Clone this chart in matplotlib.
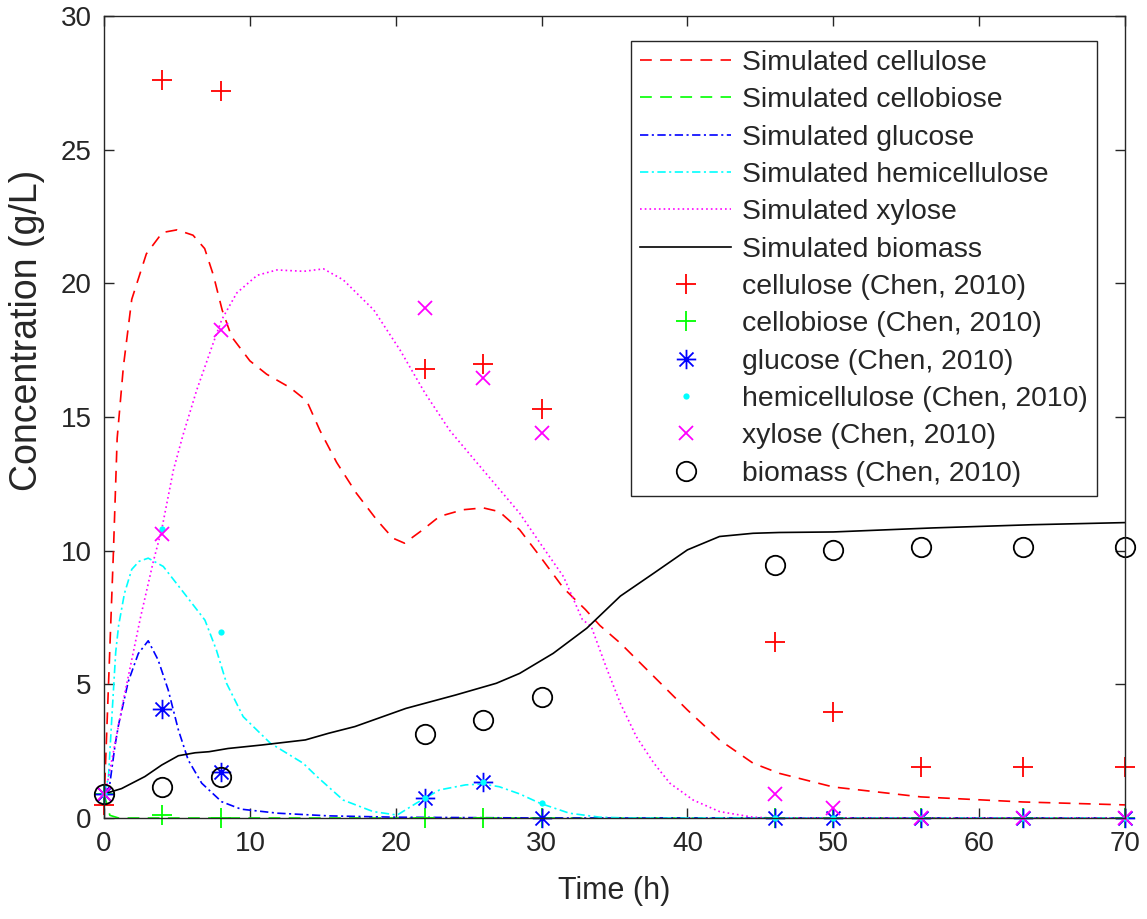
import numpy as np
import matplotlib
matplotlib.use("Agg")
import matplotlib.pyplot as plt
from matplotlib.path import Path

plt.rcParams['font.family'] = ['Liberation Sans', 'DejaVu Sans']
plt.rcParams['lines.scale_dashes'] = False

# ---- measured data (Chen, 2010) ----
t_exp = [0, 4, 8, 22, 26, 30, 46, 50, 56, 63, 70]
cellulose_exp = [0.5, 27.6, 27.2, 16.8, 17.0, 15.3, 6.6, 3.95, 1.9, 1.9, 1.9]
cellobiose_exp = [0.9, 0.1, 0.0, 0.0, 0.0, 0.0, 0.0, 0.0, 0.0, 0.0, 0.0]
glucose_exp = [0.9, 4.07, 1.73, 0.74, 1.34, 0.0, 0.0, 0.0, 0.0, 0.0, 0.0]
hemicellulose_exp = [0.9, 10.8, 6.95, 0.74, 1.34, 0.55, 0.0, 0.0, 0.0, 0.0, 0.0]
xylose_exp = [0.9, 10.63, 18.24, 19.07, 16.46, 14.42, 0.9, 0.36, 0.0, 0.0, 0.0]
biomass_exp = [0.89, 1.15, 1.52, 3.14, 3.67, 4.54, 9.47, 10.03, 10.15, 10.15, 10.15]

# ---- simulated profiles ----
t_cel = [0, 0.3, 0.64, 0.9, 1.33, 1.9, 2.9, 4.0, 5.0, 6.1, 6.9, 7.5, 8.1, 8.75,
         10.0, 11.15, 12.75, 13.9, 14.8, 15.95, 17.3, 18.7, 19.8, 20.6, 21.85,
         23.0, 24.6, 26.0, 27.1, 28.5, 29.9, 31.5, 33.0, 34.0, 35.4, 37.7, 40.0,
         42.2, 44.5, 46.3, 50, 56, 63, 70]
cellulose_sim = [0.5, 4.9, 9.9, 14.2, 16.9, 19.4, 21.1, 21.9, 22.0, 21.8, 21.3,
                 20.3, 19.0, 18.0, 17.1, 16.6, 16.1, 15.6, 14.5, 13.3, 12.15,
                 11.15, 10.47, 10.28, 10.78, 11.28, 11.53, 11.6, 11.46, 10.78,
                 9.78, 8.6, 7.8, 7.2, 6.54, 5.29, 4.04, 2.92, 2.05, 1.67, 1.16,
                 0.79, 0.6, 0.49]

t_cb = [0, 0.4, 1.0, 70]
cellobiose_sim = [0.9, 0.1, 0.0, 0.0]

t_glc = [0, 0.37, 0.75, 1.0, 1.66, 2.35, 3.03, 3.71, 4.4, 5.1, 5.77, 6.7, 8.06,
         9.4, 11.9, 15.4, 20, 30, 70]
glucose_sim = [0.9, 1.17, 2.7, 3.5, 5.1, 6.15, 6.63, 5.91, 4.79, 3.29, 2.17, 1.3,
               0.61, 0.33, 0.18, 0.08, 0.03, 0.0, 0.0]

t_hem = [0, 0.3, 0.55, 0.8, 1.0, 1.4, 1.9, 2.4, 3.03, 4.06, 5.66, 6.92, 7.7, 8.4,
         9.54, 11.4, 13.65, 14.6, 16.4, 18.45, 20.1, 21.4, 23.0, 24.8, 26.0,
         27.1, 28.5, 29.9, 31.9, 34, 36, 70]
hemicellulose_sim = [0.9, 1.5, 3.9, 6.2, 7.2, 8.4, 9.3, 9.6, 9.72, 9.41, 8.29,
                     7.4, 6.29, 5.04, 3.79, 2.8, 2.05, 1.55, 0.67, 0.24, 0.11,
                     0.55, 1.05, 1.24, 1.27, 1.17, 0.9, 0.55, 0.18, 0.03, 0.0, 0.0]

t_xyl = [0, 0.18, 1.4, 2.5, 3.38, 3.95, 4.75, 5.4, 6.35, 7.49, 8.07, 9.1, 10.5,
         11.85, 13.7, 15.05, 16.4, 18.5, 20.3, 22.0, 23.7, 25.3, 28.5, 29.9,
         31.5, 32.8, 33.4, 34.5, 35.4, 36.5, 37.7, 38.8, 40.4, 42.2, 44.5, 46, 70]
xylose_sim = [0.9, 1.17, 4.6, 7.5, 9.6, 10.78, 13.0, 14.3, 16.0, 17.77, 18.64,
              19.64, 20.3, 20.5, 20.45, 20.54, 20.13, 19.0, 17.5, 15.9, 14.5,
              13.46, 11.4, 10.28, 9.03, 7.42, 7.17, 5.54, 4.29, 3.04, 2.05, 1.3,
              0.67, 0.24, 0.03, 0.0, 0.0]

t_bio = [0, 1.2, 2.8, 3.95, 5.1, 6.25, 7.2, 8.5, 10.8, 13.8, 15.4, 17.2, 20.7,
         24.1, 26.9, 28.5, 30.8, 33.1, 35.4, 37.7, 40.0, 42.2, 44.5, 46.3, 50,
         56.8, 63.6, 70]
biomass_sim = [0.9, 1.1, 1.55, 1.98, 2.33, 2.44, 2.48, 2.6, 2.73, 2.92, 3.17,
               3.42, 4.1, 4.6, 5.04, 5.41, 6.16, 7.1, 8.3, 9.16, 10.03, 10.53,
               10.65, 10.68, 10.7, 10.85, 10.97, 11.05]

x_ticks = [0, 10, 20, 30, 40, 50, 60, 70]
y_ticks = [0, 5, 10, 15, 20, 25, 30]

AX = '#262626'

# eight-ray asterisk marker
_d = 0.72
asterisk = Path([(-1, 0), (1, 0), (0, -1), (0, 1),
                 (-_d, -_d), (_d, _d), (-_d, _d), (_d, -_d)],
                [Path.MOVETO, Path.LINETO] * 4)

fig = plt.figure(figsize=(11.47, 9.19), dpi=100)
ax = fig.add_axes([0.0907, 0.1099, 0.8901, 0.8727])

lw = 1.2
dash = (0, (8.5, 6))
dashdot = (0, (6, 2.5, 1.5, 2.5))
dot = (0, (1.2, 2.2))

ax.plot(t_cel, cellulose_sim, color='red', lw=lw, ls=dash, label='Simulated cellulose')
ax.plot(t_cb, cellobiose_sim, color='#00ff00', lw=lw, ls=dash, label='Simulated cellobiose')
ax.plot(t_glc, glucose_sim, color='blue', lw=lw, ls=dashdot, label='Simulated glucose')
ax.plot(t_hem, hemicellulose_sim, color='cyan', lw=lw, ls=dashdot, label='Simulated hemicellulose')
ax.plot(t_xyl, xylose_sim, color='magenta', lw=lw, ls=dot, label='Simulated xylose')
ax.plot(t_bio, biomass_sim, color='black', lw=lw, ls='-', label='Simulated biomass')

mew = 1.3
mk = dict(ls='none', clip_on=False)
ax.plot(t_exp, cellulose_exp, marker='+', ms=14, mew=mew, color='red',
        label='cellulose (Chen, 2010)', **mk)
ax.plot(t_exp, cellobiose_exp, marker='+', ms=14, mew=mew, color='#00ff00',
        label='cellobiose (Chen, 2010)', **mk)
ax.plot(t_exp, glucose_exp, marker=asterisk, ms=14, mew=mew, color='blue',
        label='glucose (Chen, 2010)', **mk)
ax.plot(t_exp, hemicellulose_exp, marker='o', ms=4.5, mew=0, color='cyan',
        label='hemicellulose (Chen, 2010)', **mk)
ax.plot(t_exp, xylose_exp, marker='x', ms=10, mew=mew, color='magenta',
        label='xylose (Chen, 2010)', **mk)
ax.plot(t_exp, biomass_exp, marker='o', ms=14, mew=mew, mfc='none',
        color='black', label='biomass (Chen, 2010)', **mk)

ax.set_xlim(0, 70)
ax.set_ylim(0, 30)
ax.set_xticks(x_ticks)
ax.set_yticks(y_ticks)
ax.tick_params(direction='in', length=7, width=1.0, color=AX, labelcolor=AX,
               labelsize=20, top=True, right=True, pad=9)
for s in ax.spines.values():
    s.set_color(AX)
    s.set_linewidth(1.0)

ax.set_xlabel('Time (h)', fontsize=22, color=AX, labelpad=14)
ax.set_ylabel('Concentration (g/L)', fontsize=27, color=AX)
ax.yaxis.set_label_coords(-0.058, 0.608)

leg = ax.legend(loc='upper right', bbox_to_anchor=(1097 / 1147, 1 - 41 / 919),
                bbox_transform=fig.transFigure, borderaxespad=0, fontsize=20.4,
                frameon=True, fancybox=False, edgecolor=AX, framealpha=1,
                handlelength=3.2, handletextpad=0.4, labelspacing=0.40,
                borderpad=0.32, numpoints=1)
leg.get_frame().set_linewidth(1.0)
for txt in leg.get_texts():
    txt.set_color(AX)

fig.savefig('out.png', dpi=100)
